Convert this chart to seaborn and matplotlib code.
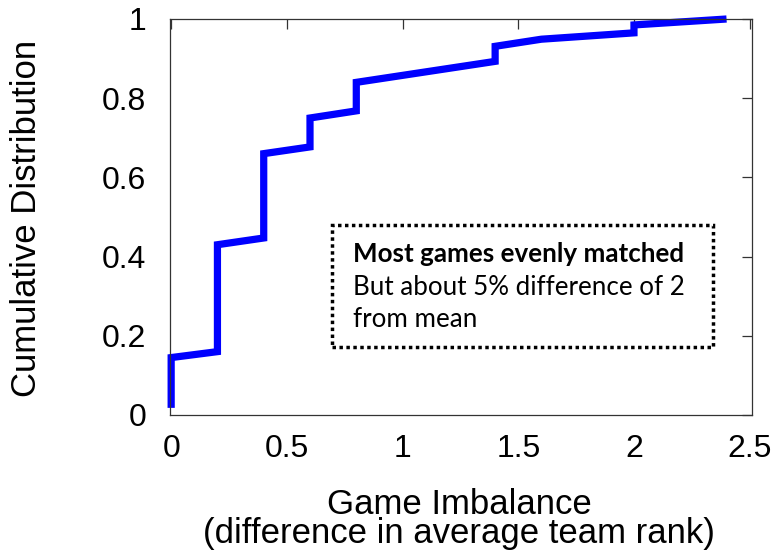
import matplotlib
matplotlib.use("Agg")
import matplotlib.pyplot as plt
import seaborn as sns
import pandas as pd
from matplotlib.patches import Rectangle

# Data (vertices of the CDF curve)
imbalance = [0.0, 0.0, 0.2, 0.2, 0.4, 0.4, 0.6, 0.6, 0.8, 0.8, 1.4, 1.4, 1.6, 2.0, 2.0, 2.4]
cdf = [0.018, 0.145, 0.16, 0.43, 0.447, 0.66, 0.677, 0.75, 0.768, 0.84, 0.893, 0.931, 0.949, 0.965, 0.985, 1.0]
x_ticks = [0, 0.5, 1, 1.5, 2, 2.5]
x_tick_labels = ["0", "0.5", "1", "1.5", "2", "2.5"]
y_ticks = [0, 0.2, 0.4, 0.6, 0.8, 1.0]
y_tick_labels = ["0", "0.2", "0.4", "0.6", "0.8", "1"]

sns.set_style("white")
plt.rcParams["font.family"] = ["Liberation Sans", "DejaVu Sans"]
plt.rcParams["text.color"] = "black"
plt.rcParams["xtick.color"] = "#333333"
plt.rcParams["ytick.color"] = "#333333"
plt.rcParams["xtick.labelcolor"] = "black"
plt.rcParams["ytick.labelcolor"] = "black"

df = pd.DataFrame({"x": imbalance, "y": cdf})

fig = plt.figure(figsize=(7.82, 5.56), dpi=100)
ax = fig.add_axes([170 / 782, 1 - 415 / 556, 582 / 782, 396 / 556])

sns.lineplot(data=df, x="x", y="y", sort=False, estimator=None, ax=ax,
             color="#0000FF", linewidth=5.2, solid_capstyle="butt",
             solid_joinstyle="miter", clip_on=False)

ax.set_xlim(-0.005, 2.51)
ax.set_ylim(0, 1.0)
ax.set_xticks(x_ticks)
ax.set_xticklabels(x_tick_labels)
ax.set_yticks(y_ticks)
ax.set_yticklabels(y_tick_labels)

for s in ax.spines.values():
    s.set_visible(True)
    s.set_color("#333333")
    s.set_linewidth(0.9)
    s.set_zorder(3)

ax.tick_params(direction="in", length=7, width=0.9,
               top=True, right=True, labelsize=23, pad=14)
ax.tick_params(axis="y", pad=17)

ax.set_xlabel("")
ax.set_ylabel("")
fig.text(27 / 782, 1 - 218 / 556, "Cumulative Distribution", rotation=90,
         fontsize=25, ha="center", va="center")
fig.text(459 / 782, 1 - 488 / 556,
         "Game Imbalance\n(difference in average team rank)",
         fontsize=25, ha="center", va="top", multialignment="center",
         linespacing=0.85)

# Annotation box
rect = Rectangle((0.278, 0.172), 0.933 - 0.278, 0.480 - 0.172,
                 transform=ax.transAxes, fill=False, edgecolor="black",
                 linewidth=2.5, linestyle=(0, (1, 1)), capstyle="butt",
                 clip_on=False, zorder=4)
ax.add_patch(rect)
ann_font = ["Lato", "DejaVu Sans"]
ax.text(0.3144, 0.386, "Most games evenly matched", transform=ax.transAxes,
        fontsize=18.7, fontweight="bold", family=ann_font,
        va="baseline", ha="left", color="black")
ax.text(0.3144, 0.302, "But about 5% difference of 2", transform=ax.transAxes,
        fontsize=18.7, family=ann_font, va="baseline", ha="left", color="black")
ax.text(0.3144, 0.222, "from mean", transform=ax.transAxes,
        fontsize=18.7, family=ann_font, va="baseline", ha="left", color="black")

fig.savefig("out.png", dpi=100)
